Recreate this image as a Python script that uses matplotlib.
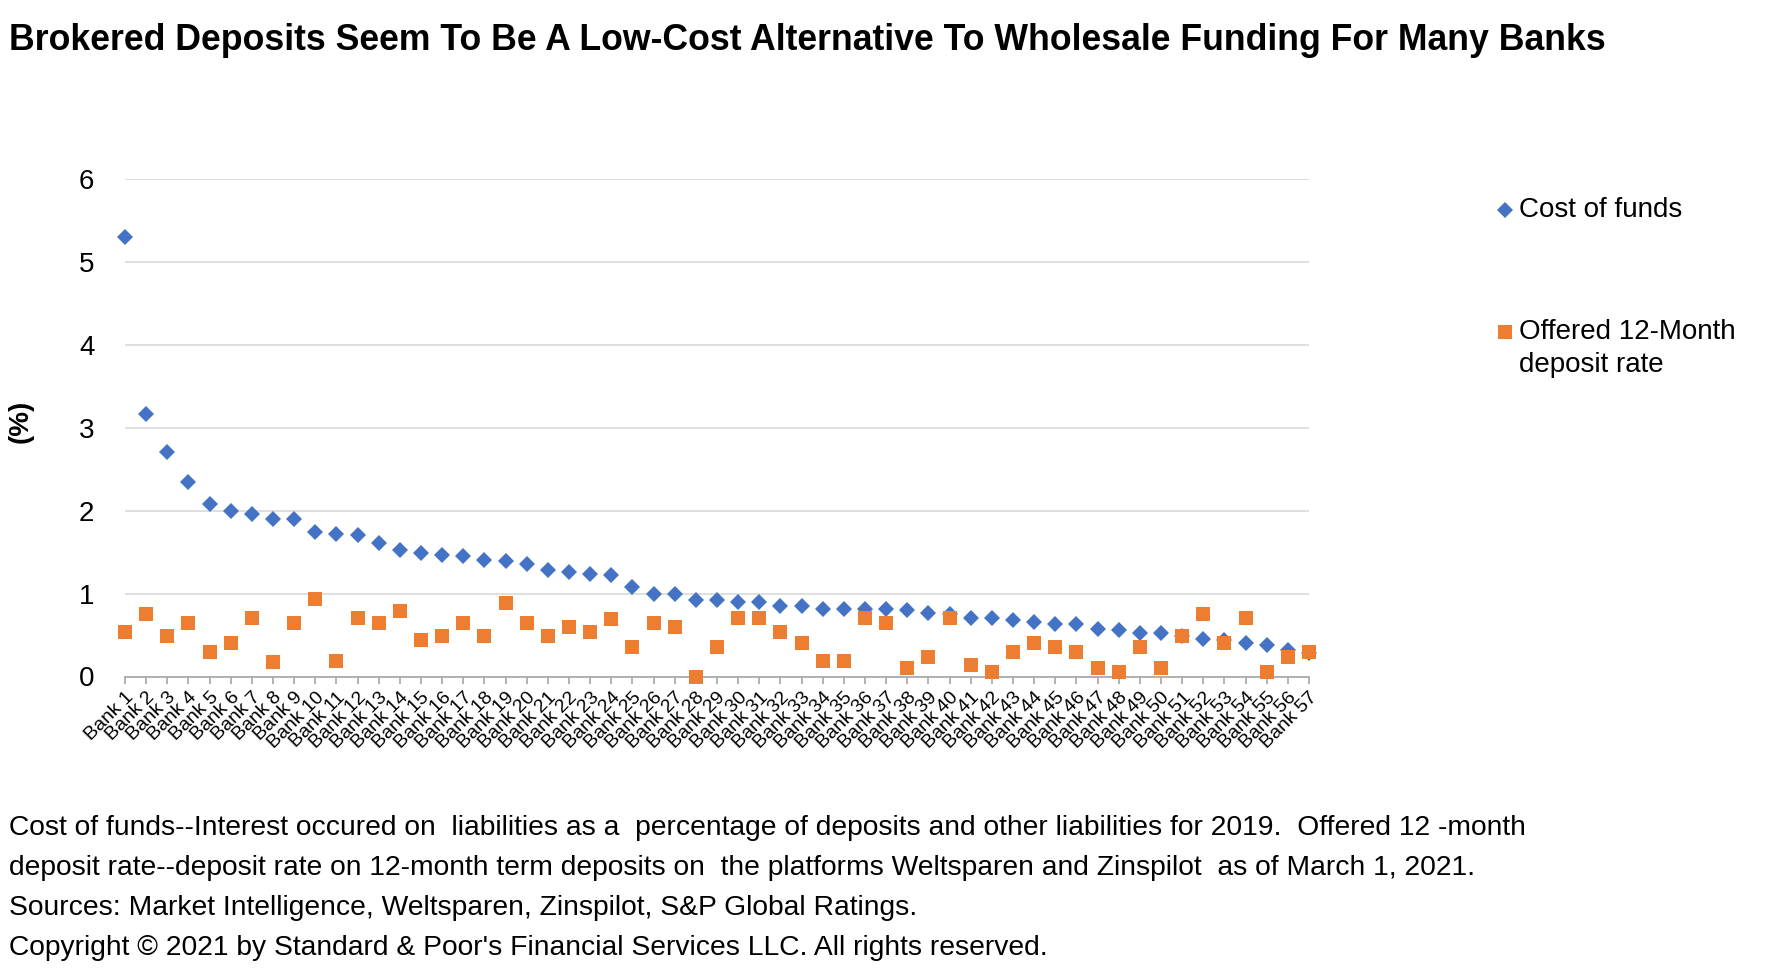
import matplotlib
matplotlib.use("Agg")
import matplotlib.pyplot as plt
from matplotlib.lines import Line2D

plt.rcParams['font.family'] = ['Liberation Sans', 'DejaVu Sans']

banks = [f"Bank {i}" for i in range(1, 58)]

cost_of_funds = [
    5.30, 3.17, 2.71, 2.35, 2.08, 1.99, 1.96, 1.90, 1.90, 1.74,
    1.72, 1.71, 1.61, 1.53, 1.49, 1.46, 1.45, 1.41, 1.39, 1.36,
    1.28, 1.26, 1.24, 1.23, 1.08, 1.00, 0.99, 0.92, 0.92, 0.90,
    0.90, 0.85, 0.85, 0.82, 0.82, 0.82, 0.81, 0.80, 0.77, 0.75,
    0.71, 0.70, 0.68, 0.66, 0.63, 0.63, 0.57, 0.56, 0.53, 0.53,
    0.49, 0.45, 0.44, 0.41, 0.38, 0.32, 0.28,
]

offered_rate = [
    0.54, 0.75, 0.49, 0.65, 0.30, 0.40, 0.70, 0.18, 0.65, 0.93,
    0.19, 0.71, 0.65, 0.79, 0.44, 0.49, 0.65, 0.49, 0.89, 0.65,
    0.49, 0.60, 0.54, 0.69, 0.35, 0.65, 0.60, 0.00, 0.35, 0.70,
    0.70, 0.54, 0.40, 0.19, 0.19, 0.70, 0.65, 0.10, 0.24, 0.70,
    0.14, 0.05, 0.30, 0.40, 0.35, 0.30, 0.10, 0.05, 0.35, 0.10,
    0.49, 0.75, 0.40, 0.70, 0.05, 0.24, 0.30,
]

title = "Brokered Deposits Seem To Be A Low-Cost Alternative To Wholesale Funding For Many Banks"
notes = [
    "Cost of funds--Interest occured on  liabilities as a  percentage of deposits and other liabilities for 2019.  Offered 12 -month",
    "deposit rate--deposit rate on 12-month term deposits on  the platforms Weltsparen and Zinspilot  as of March 1, 2021.",
    "Sources: Market Intelligence, Weltsparen, Zinspilot, S&P Global Ratings.",
    "Copyright \u00a9 2021 by Standard & Poor's Financial Services LLC. All rights reserved.",
]

blue = "#4472C4"
orange = "#ED7D31"

W, H = 1768, 974
fig = plt.figure(figsize=(W / 100, H / 100), dpi=100)
ax = fig.add_axes([125 / W, 1 - 676.5 / H, (1309 - 125) / W, (676.5 - 179) / H])

x = list(range(len(banks)))
ax.plot(x, cost_of_funds, linestyle='none', marker='D', ms=8.5, color=blue,
        markeredgewidth=0, clip_on=False, zorder=3)
ax.plot(x, offered_rate, linestyle='none', marker='s', ms=9.5, color=orange,
        markeredgewidth=0, clip_on=False, zorder=4)

ax.set_xlim(0, len(banks) - 1)
ax.set_ylim(0, 6)
ax.set_yticks(range(0, 7))
ax.yaxis.grid(True, color="#D9D9D9", linewidth=1.2)
ax.set_axisbelow(True)
for s in ['top', 'right', 'left']:
    ax.spines[s].set_visible(False)
ax.spines['bottom'].set_color("#A6A6A6")
ax.spines['bottom'].set_linewidth(1.2)
ax.tick_params(axis='y', length=0, pad=22, labelsize=20)
ax.tick_params(axis='x', length=5, color="#A6A6A6", width=1.2, pad=4)
ax.set_xticks(x)
ax.set_xticklabels(banks, rotation=45, ha='right', va='top',
                   rotation_mode='anchor', fontsize=14)

ax.set_ylabel("(%)", fontsize=20, fontweight='bold')
ax.yaxis.set_label_coords(-0.077, 0.512)

fig.text(9 / W, 1 - 40 / H, title, fontsize=25.7, fontweight='bold', va='center')

# legend drawn by hand so the marker lines up with the first text line
fig.add_artist(Line2D([1505 / W], [1 - 210 / H], marker='D', ms=8.5, color=blue,
                      markeredgewidth=0, transform=fig.transFigure))
fig.text(1519 / W, 1 - 210 / H, "Cost of funds", fontsize=20, va='center')
fig.add_artist(Line2D([1505 / W], [1 - 332 / H], marker='s', ms=9.5, color=orange,
                      markeredgewidth=0, transform=fig.transFigure))
fig.text(1519 / W, 1 - 332 / H, "Offered 12-Month", fontsize=20, va='center')
fig.text(1519 / W, 1 - 365 / H, "deposit rate", fontsize=20, va='center')

for i, line in enumerate(notes):
    fig.text(9 / W, 1 - (828 + 40 * i) / H, line, fontsize=20.3, va='center')

fig.savefig("out.png", dpi=100)
